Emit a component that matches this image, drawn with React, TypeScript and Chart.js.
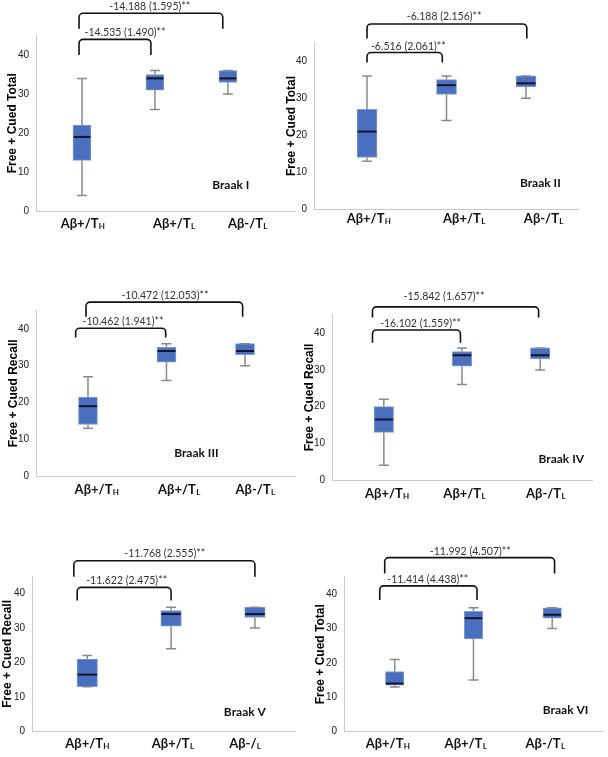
import React, { useEffect, useRef } from "react";
import { Chart, registerables } from "chart.js";

Chart.register(...registerables);

// ---------------- data ----------------
const PANEL_NAMES = ["Braak I", "Braak II", "Braak III", "Braak IV", "Braak V", "Braak VI"];
const Y_TITLES = [
  "Free + Cued Total",
  "Free + Cued Total",
  "Free + Cued Recall",
  "Free + Cued Recall",
  "Free + Cued Recall",
  "Free + Cued Total",
];
const CATEGORY_MAIN = ["Aβ+/T", "Aβ+/T", "Aβ-/T"];
const CATEGORY_MAIN_V = ["Aβ+/T", "Aβ+/T", "Aβ-/"];
const CATEGORY_SUB = ["H", "L", "L"];
const INNER_LABELS = [
  "-14.535 (1.490)**",
  "-6.516 (2.061)**",
  "-10.462 (1.941)**",
  "-16.102 (1.559)**",
  "-11.622 (2.475)**",
  "-11.414 (4.438)**",
];
const OUTER_LABELS = [
  "-14.188 (1.595)**",
  "-6.188 (2.156)**",
  "-10.472 (12.053)**",
  "-15.842 (1.657)**",
  "-11.768 (2.555)**",
  "-11.992 (4.507)**",
];
const Y_TICKS = [0, 10, 20, 30, 40];
const Y_MAX = 45;

// per panel: [Aβ+/TH, Aβ+/TL, Aβ-/TL]
const WHISKER_LOW = [
  [4, 26, 30],
  [13, 24, 30],
  [13, 26, 30],
  [4, 26, 30],
  [13, 24, 30],
  [13, 15, 30],
];
const Q1 = [
  [13, 31, 33],
  [14, 31, 33],
  [14, 31, 33],
  [13, 31, 33],
  [13, 30.5, 33],
  [13.5, 27, 33],
];
const MEDIAN = [
  [19, 34, 34],
  [21, 33.5, 34],
  [19, 34, 34],
  [16.5, 34, 34],
  [16.5, 34, 34],
  [14, 33, 34],
];
const Q3 = [
  [22, 35, 36],
  [27, 35, 36],
  [21.5, 35, 36],
  [20, 35, 36],
  [21, 35, 36],
  [17.5, 35, 36],
];
const WHISKER_HIGH = [
  [34, 36, 36],
  [36, 36, 36],
  [27, 36, 36],
  [22, 36, 36],
  [22, 36, 36],
  [21, 36, 36],
];

// ---------------- layout (page pixels / scale units) ----------------
type Layout = {
  axisX: number; right: number; y0: number; y45: number; rowTop: number; rowH: number;
  gap: number; xMin: number; xMax: number; barW: number;
  inner: number[]; innerText: number[]; outer: number[]; outerText: number[];
  catX: number[]; catY: number; nameX: number; nameY: number;
};
const LAYOUT: Layout[] = [
  { axisX: 36, right: 295, y0: 211, y45: 35.5, rowTop: 0, rowH: 250, gap: 23, xMin: -0.63, xMax: 2.92, barW: 18,
    inner: [-0.04, 0.945, 44.0, 40.0], innerText: [0.59, 45.8], outer: [-0.04, 1.93, 50.7, 46.7], outerText: [0.93, 52.4],
    catX: [0.01, 1.26, 2.27], catY: -3.1, nameX: 2.04, nameY: 6.7 },
  { axisX: 314, right: 578, y0: 209.5, y45: 42.5, rowTop: 0, rowH: 250, gap: 22, xMin: -0.667, xMax: 2.654, barW: 20,
    inner: [0, 0.947, 42.3, 39.6], innerText: [0.52, 43.9], outer: [0, 2.01, 50.0, 46.1], outerText: [0.97, 52.0],
    catX: [0.02, 1.22, 2.22], catY: -2.4, nameX: 2.18, nameY: 7.2 },
  { axisX: 36, right: 295, y0: 476, y45: 310.6, rowTop: 250, rowH: 260, gap: 22.4, xMin: -0.662, xMax: 2.637, barW: 19,
    inner: [-0.157, 0.99, 40.2, 37.7], innerText: [0.446, 42.0], outer: [-0.025, 1.97, 47.3, 43.3], outerText: [0.98, 49.1],
    catX: [0.11, 1.16, 2.13], catY: -3.6, nameX: 1.38, nameY: 6.2 },
  { axisX: 332, right: 592, y0: 480, y45: 314.9, rowTop: 250, rowH: 260, gap: 22.3, xMin: -0.663, xMax: 2.663, barW: 19.5,
    inner: [-0.145, 0.98, 40.9, 37.4], innerText: [0.47, 42.7], outer: [-0.145, 1.98, 47.2, 44.3], outerText: [0.77, 49.9],
    catX: [0.04, 1.03, 2.07], catY: -3.5, nameX: 2.27, nameY: 5.6 },
  { axisX: 32, right: 295, y0: 731.7, y45: 576, rowTop: 510, rowH: 247, gap: 24, xMin: -0.659, xMax: 2.478, barW: 20.5,
    inner: [-0.12, 1.0, 41.7, 37.9], innerText: [0.47, 43.8], outer: [-0.16, 2.0, 49.4, 44.8], outerText: [0.925, 51.6],
    catX: [0.0, 1.02, 1.88], catY: -3.4, nameX: 1.88, nameY: 5.8 },
  { axisX: 344, right: 603, y0: 731.7, y45: 576.9, rowTop: 510, rowH: 247, gap: 23.6, xMin: -0.644, xMax: 2.645, barW: 18.5,
    inner: [-0.19, 1.045, 42.4, 38.3], innerText: [0.42, 44.3], outer: [-0.127, 2.03, 50.6, 46.0], outerText: [0.96, 52.3],
    catX: [-0.09, 0.9, 1.91], catY: -3.4, nameX: 2.17, nameY: 6.3 },
];

const BOX_FILL = "#4a6fbe";
const BOX_EDGE = "#7f9cd6";
const WHISKER_COLOR = "#8a8a8a";
const MEDIAN_COLOR = "#14142a";
const AXIS_COLOR = "#c9c9c9";
const LABEL_FONT = "Lato, 'Open Sans', 'DejaVu Sans', sans-serif";
const ANNOT_FONT = "Lato, 'Open Sans', 'DejaVu Sans', sans-serif";
const TICK_FONT = "'Liberation Sans Narrow', 'Liberation Sans', Arial, sans-serif";
const TITLE_FONT = "'Liberation Sans', Arial, sans-serif";

function Panel({ idx }: { idx: number }) {
  const ref = useRef<HTMLCanvasElement>(null);
  const L = LAYOUT[idx];
  const left = L.axisX - 36;
  const width = Math.round(L.right - L.axisX + 44);

  useEffect(() => {
    const canvas = ref.current;
    if (!canvas) return;
    const W = L.gap + 7.2;

    const extras = {
      id: "boxExtras" + idx,
      afterDraw(chart: any) {
        const ctx = chart.ctx as CanvasRenderingContext2D;
        const xs = chart.scales.x;
        const ys = chart.scales.y;
        const X = (v: number) => xs.getPixelForValue(v);
        const Y = (v: number) => ys.getPixelForValue(v);
        ctx.save();

        // whiskers, caps, medians
        for (let i = 0; i < 3; i++) {
          const cx = X(i);
          ctx.strokeStyle = WHISKER_COLOR;
          ctx.lineWidth = 1.5;
          ctx.beginPath();
          ctx.moveTo(cx, Y(WHISKER_LOW[idx][i]));
          ctx.lineTo(cx, Y(Q1[idx][i]));
          ctx.moveTo(cx, Y(Q3[idx][i]));
          ctx.lineTo(cx, Y(WHISKER_HIGH[idx][i]));
          ctx.stroke();
          ctx.beginPath();
          [WHISKER_LOW, WHISKER_HIGH].forEach((arr) => {
            const yy = Y(arr[idx][i]);
            ctx.moveTo(cx - 5, yy);
            ctx.lineTo(cx + 5, yy);
          });
          ctx.stroke();
          ctx.strokeStyle = MEDIAN_COLOR;
          ctx.lineWidth = 2;
          ctx.beginPath();
          const ym = Y(MEDIAN[idx][i]);
          ctx.moveTo(cx - L.barW / 2 + 0.5, ym);
          ctx.lineTo(cx + L.barW / 2 - 0.5, ym);
          ctx.stroke();
        }

        // brackets
        const bracket = (b: number[]) => {
          const x0 = X(b[0]);
          const x1 = X(b[1]);
          const yt = Y(b[2]);
          const yl = Y(b[3]);
          const r = 4;
          ctx.beginPath();
          ctx.moveTo(x0, yl);
          ctx.arcTo(x0, yt, x0 + r, yt, r);
          ctx.arcTo(x1, yt, x1, yl, r);
          ctx.lineTo(x1, yl);
          ctx.stroke();
        };
        ctx.strokeStyle = "#111";
        ctx.lineWidth = 1.6;
        bracket(L.inner);
        bracket(L.outer);

        ctx.fillStyle = "#333";
        ctx.font = `10.5px ${ANNOT_FONT}`;
        ctx.textAlign = "center";
        ctx.textBaseline = "middle";
        ctx.fillText(INNER_LABELS[idx], X(L.innerText[0]), Y(L.innerText[1]));
        ctx.fillText(OUTER_LABELS[idx], X(L.outerText[0]), Y(L.outerText[1]));

        // category labels
        const mains = idx === 4 ? CATEGORY_MAIN_V : CATEGORY_MAIN;
        const mainFont = `bold 13px ${LABEL_FONT}`;
        const subFont = `bold 8px ${LABEL_FONT}`;
        ctx.fillStyle = "#111";
        ctx.textAlign = "left";
        ctx.textBaseline = "alphabetic";
        for (let i = 0; i < 3; i++) {
          ctx.font = mainFont;
          const mw = ctx.measureText(mains[i]).width;
          ctx.font = subFont;
          const sw = ctx.measureText(CATEGORY_SUB[i]).width;
          const x0 = X(L.catX[i]) - (mw + sw) / 2;
          const yb = Y(L.catY) + 4.7;
          ctx.font = mainFont;
          ctx.fillText(mains[i], x0, yb);
          ctx.font = subFont;
          ctx.fillText(CATEGORY_SUB[i], x0 + mw + 0.3, yb + 1);
        }

        // panel name
        ctx.font = `bold 12px ${LABEL_FONT}`;
        ctx.textAlign = "center";
        ctx.textBaseline = "middle";
        ctx.fillText(PANEL_NAMES[idx], X(L.nameX), Y(L.nameY));
        ctx.restore();
      },
    };

    const chart = new Chart(canvas, {
      type: "bar",
      data: {
        datasets: [
          {
            data: [0, 1, 2].map((i) => ({ x: i, y: [Q1[idx][i], Q3[idx][i]] })) as any,
            backgroundColor: BOX_FILL,
            borderColor: BOX_EDGE,
            borderWidth: 1,
            borderSkipped: false,
            barThickness: L.barW,
          },
        ],
      },
      options: {
        responsive: false,
        animation: false,
        devicePixelRatio: 1,
        layout: {
          autoPadding: false,
          padding: {
            left: 36 - W,
            top: L.y45 - L.rowTop,
            right: width - (L.right - left),
            bottom: L.rowTop + L.rowH - L.y0,
          },
        },
        plugins: {
          legend: { display: false },
          tooltip: { enabled: false },
          title: { display: false },
        },
        scales: {
          x: {
            type: "linear",
            offset: false,
            min: L.xMin,
            max: L.xMax,
            ticks: { display: false },
            grid: { display: false, drawTicks: false, offset: false },
            border: { display: true, color: AXIS_COLOR, width: 1 },
            afterFit: (s: any) => {
              s.height = 0;
            },
          },
          y: {
            type: "linear",
            min: 0,
            max: Y_MAX,
            afterBuildTicks: (s: any) => {
              s.ticks = Y_TICKS.map((v) => ({ value: v }));
            },
            ticks: { padding: 7, color: "#222", font: { family: TICK_FONT, size: 10 } },
            grid: { display: false, drawTicks: false },
            border: { display: true, color: AXIS_COLOR, width: 1 },
            title: {
              display: true,
              text: Y_TITLES[idx],
              color: "#000",
              font: { family: TITLE_FONT, size: 12, weight: "bold", lineHeight: 1.2 },
              padding: { top: 0, bottom: 0 },
            },
            afterFit: (s: any) => {
              s.width = W;
            },
          },
        },
      } as any,
      plugins: [extras],
    });
    return () => chart.destroy();
  }, [idx]);

  return (
    <canvas
      ref={ref}
      width={width}
      height={L.rowH}
      style={{ position: "absolute", left, top: L.rowTop, width, height: L.rowH }}
    />
  );
}

export default function App() {
  return (
    <div
      style={{
        position: "fixed",
        left: 0,
        top: 0,
        width: 608,
        height: 757,
        background: "#fff",
        overflow: "hidden",
      }}
    >
      {[0, 1, 2, 3, 4, 5].map((i) => (
        <Panel key={i} idx={i} />
      ))}
    </div>
  );
}
